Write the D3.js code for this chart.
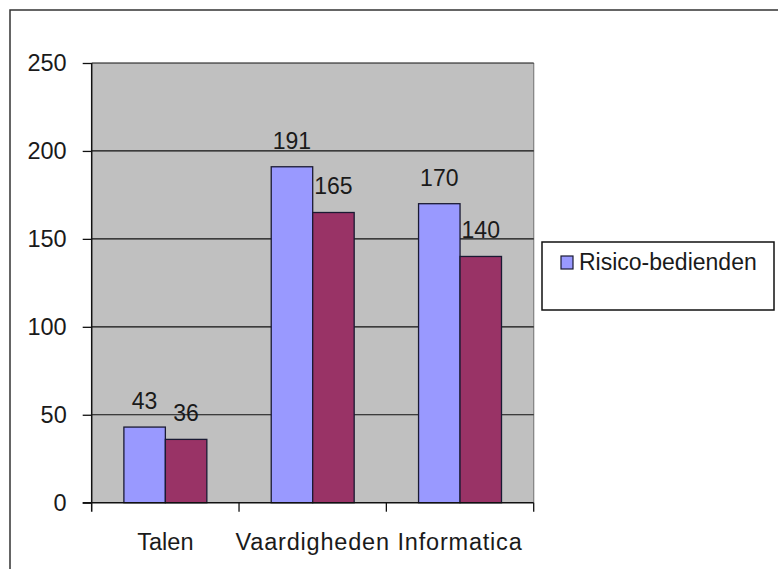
<!DOCTYPE html>
<html>
<head>
<meta charset="utf-8">
<script src="https://d3js.org/d3.v7.min.js"></script>
<style>
  body { margin: 0; background: #fff; }
  text { font-family: Arial, "Liberation Sans", sans-serif; fill: #1a1a1a; }
</style>
</head>
<body>
<svg id="chart" width="778" height="569"></svg>
<script>
// chart data
var categories = ["Talen", "Vaardigheden", "Informatica"];
var seriesA = [43, 191, 170];   // Risico-bedienden
var seriesB = [36, 165, 140];   // second series (not in legend)
var yTicks = [0, 50, 100, 150, 200, 250];
var legendLabels = ["Risico-bedienden"];
var colors = ["#9999ff", "#993366"];

var svg = d3.select("#chart");

// outer frame (runs past the bottom/right of the picture)
svg.append("rect")
    .attr("x", 10).attr("y", 10)
    .attr("width", 800).attr("height", 600)
    .attr("fill", "none")
    .attr("stroke", "#333")
    .attr("stroke-width", 1.5);

var plot = {left: 91.7, right: 533.7, top: 63, bottom: 502.7};

var x = d3.scaleBand()
    .domain(categories)
    .range([plot.left, plot.right])
    .paddingInner(0.437)
    .paddingOuter(0.2185);

var xs = d3.scaleBand()
    .domain([0, 1])
    .range([0, x.bandwidth()]);

var y = d3.scaleLinear()
    .domain([0, 250])
    .range([plot.bottom, plot.top]);

// plot background
svg.append("rect")
    .attr("x", plot.left).attr("y", plot.top)
    .attr("width", plot.right - plot.left)
    .attr("height", plot.bottom - plot.top)
    .attr("fill", "#c0c0c0");

// right border of plot
svg.append("line")
    .attr("x1", plot.right).attr("x2", plot.right)
    .attr("y1", plot.top).attr("y2", plot.bottom)
    .attr("stroke", "#808080").attr("stroke-width", 1.2);

// gridlines
svg.append("g")
    .selectAll("line")
    .data(yTicks.filter(function(d) { return d > 0; }))
    .join("line")
    .attr("x1", plot.left).attr("x2", plot.right)
    .attr("y1", function(d) { return y(d); })
    .attr("y2", function(d) { return y(d); })
    .attr("stroke", "#111").attr("stroke-width", 1.2);

// bars
var rows = categories.map(function(c, i) {
    return {cat: c, vals: [seriesA[i], seriesB[i]]};
});

var groups = svg.append("g")
    .selectAll("g")
    .data(rows)
    .join("g")
    .attr("transform", function(d) { return "translate(" + x(d.cat) + ",0)"; });

groups.selectAll("rect")
    .data(function(d) { return d.vals; })
    .join("rect")
    .attr("x", function(d, i) { return xs(i); })
    .attr("y", function(d) { return y(d); })
    .attr("width", xs.bandwidth())
    .attr("height", function(d) { return y(0) - y(d); })
    .attr("fill", function(d, i) { return colors[i]; })
    .attr("stroke", "#1a1a33")
    .attr("stroke-width", 1.3);

// value labels
groups.selectAll("text")
    .data(function(d) { return d.vals; })
    .join("text")
    .attr("x", function(d, i) { return xs(i) + xs.bandwidth() / 2; })
    .attr("y", function(d) { return y(d) - 18; })
    .attr("text-anchor", "middle")
    .attr("font-size", "23px")
    .text(function(d) { return d; });

// y axis
var yAxis = svg.append("g")
    .attr("transform", "translate(" + plot.left + ",0)")
    .call(d3.axisLeft(y).tickValues(yTicks).tickSize(9).tickPadding(16));
yAxis.select(".domain").attr("stroke", "#111").attr("stroke-width", 1.5)
    .attr("d", "M0," + (plot.top) + "V" + (plot.bottom + 9));
yAxis.selectAll(".tick line").attr("stroke", "#111").attr("stroke-width", 1.3);
yAxis.selectAll("text")
    .attr("font-size", "23.5px")
    .attr("font-family", "Arial, 'Liberation Sans', sans-serif")
    .attr("fill", "#1a1a1a");

// x axis
var xAxis = svg.append("g")
    .attr("transform", "translate(0," + plot.bottom + ")");
xAxis.append("line")
    .attr("x1", plot.left - 9).attr("x2", plot.right)
    .attr("stroke", "#111").attr("stroke-width", 1.5);
xAxis.selectAll(".sep")
    .data(categories)
    .join("line")
    .attr("class", "sep")
    .attr("x1", function(d) { return x(d) + x.bandwidth() + x.step() * x.paddingOuter(); })
    .attr("x2", function(d) { return x(d) + x.bandwidth() + x.step() * x.paddingOuter(); })
    .attr("y1", 0).attr("y2", 9)
    .attr("stroke", "#111").attr("stroke-width", 1.3);
xAxis.selectAll(".lbl")
    .data(categories)
    .join("text")
    .attr("class", "lbl")
    .attr("x", function(d) { return x(d) + x.bandwidth() / 2; })
    .attr("y", 47)
    .attr("text-anchor", "middle")
    .attr("font-size", "23.5px")
    .attr("letter-spacing", function(d) { return d === "Talen" ? "0px" : "0.8px"; })
    .text(function(d) { return d; });

// legend
var legend = svg.append("g").attr("transform", "translate(542,242)");
legend.append("rect")
    .attr("width", 232).attr("height", 68)
    .attr("fill", "#fff")
    .attr("stroke", "#111").attr("stroke-width", 1.5);
legend.selectAll(".item")
    .data(legendLabels)
    .join("g")
    .attr("class", "item")
    .each(function(d, i) {
        var g = d3.select(this);
        g.append("rect")
            .attr("x", 19).attr("y", 14 + i * 26)
            .attr("width", 12).attr("height", 13)
            .attr("fill", colors[i])
            .attr("stroke", "#1a1a33").attr("stroke-width", 1.2);
        g.append("text")
            .attr("x", 37).attr("y", 28 + i * 26)
            .attr("font-size", "23px")
            .text(d);
    });
</script>
</body>
</html>
